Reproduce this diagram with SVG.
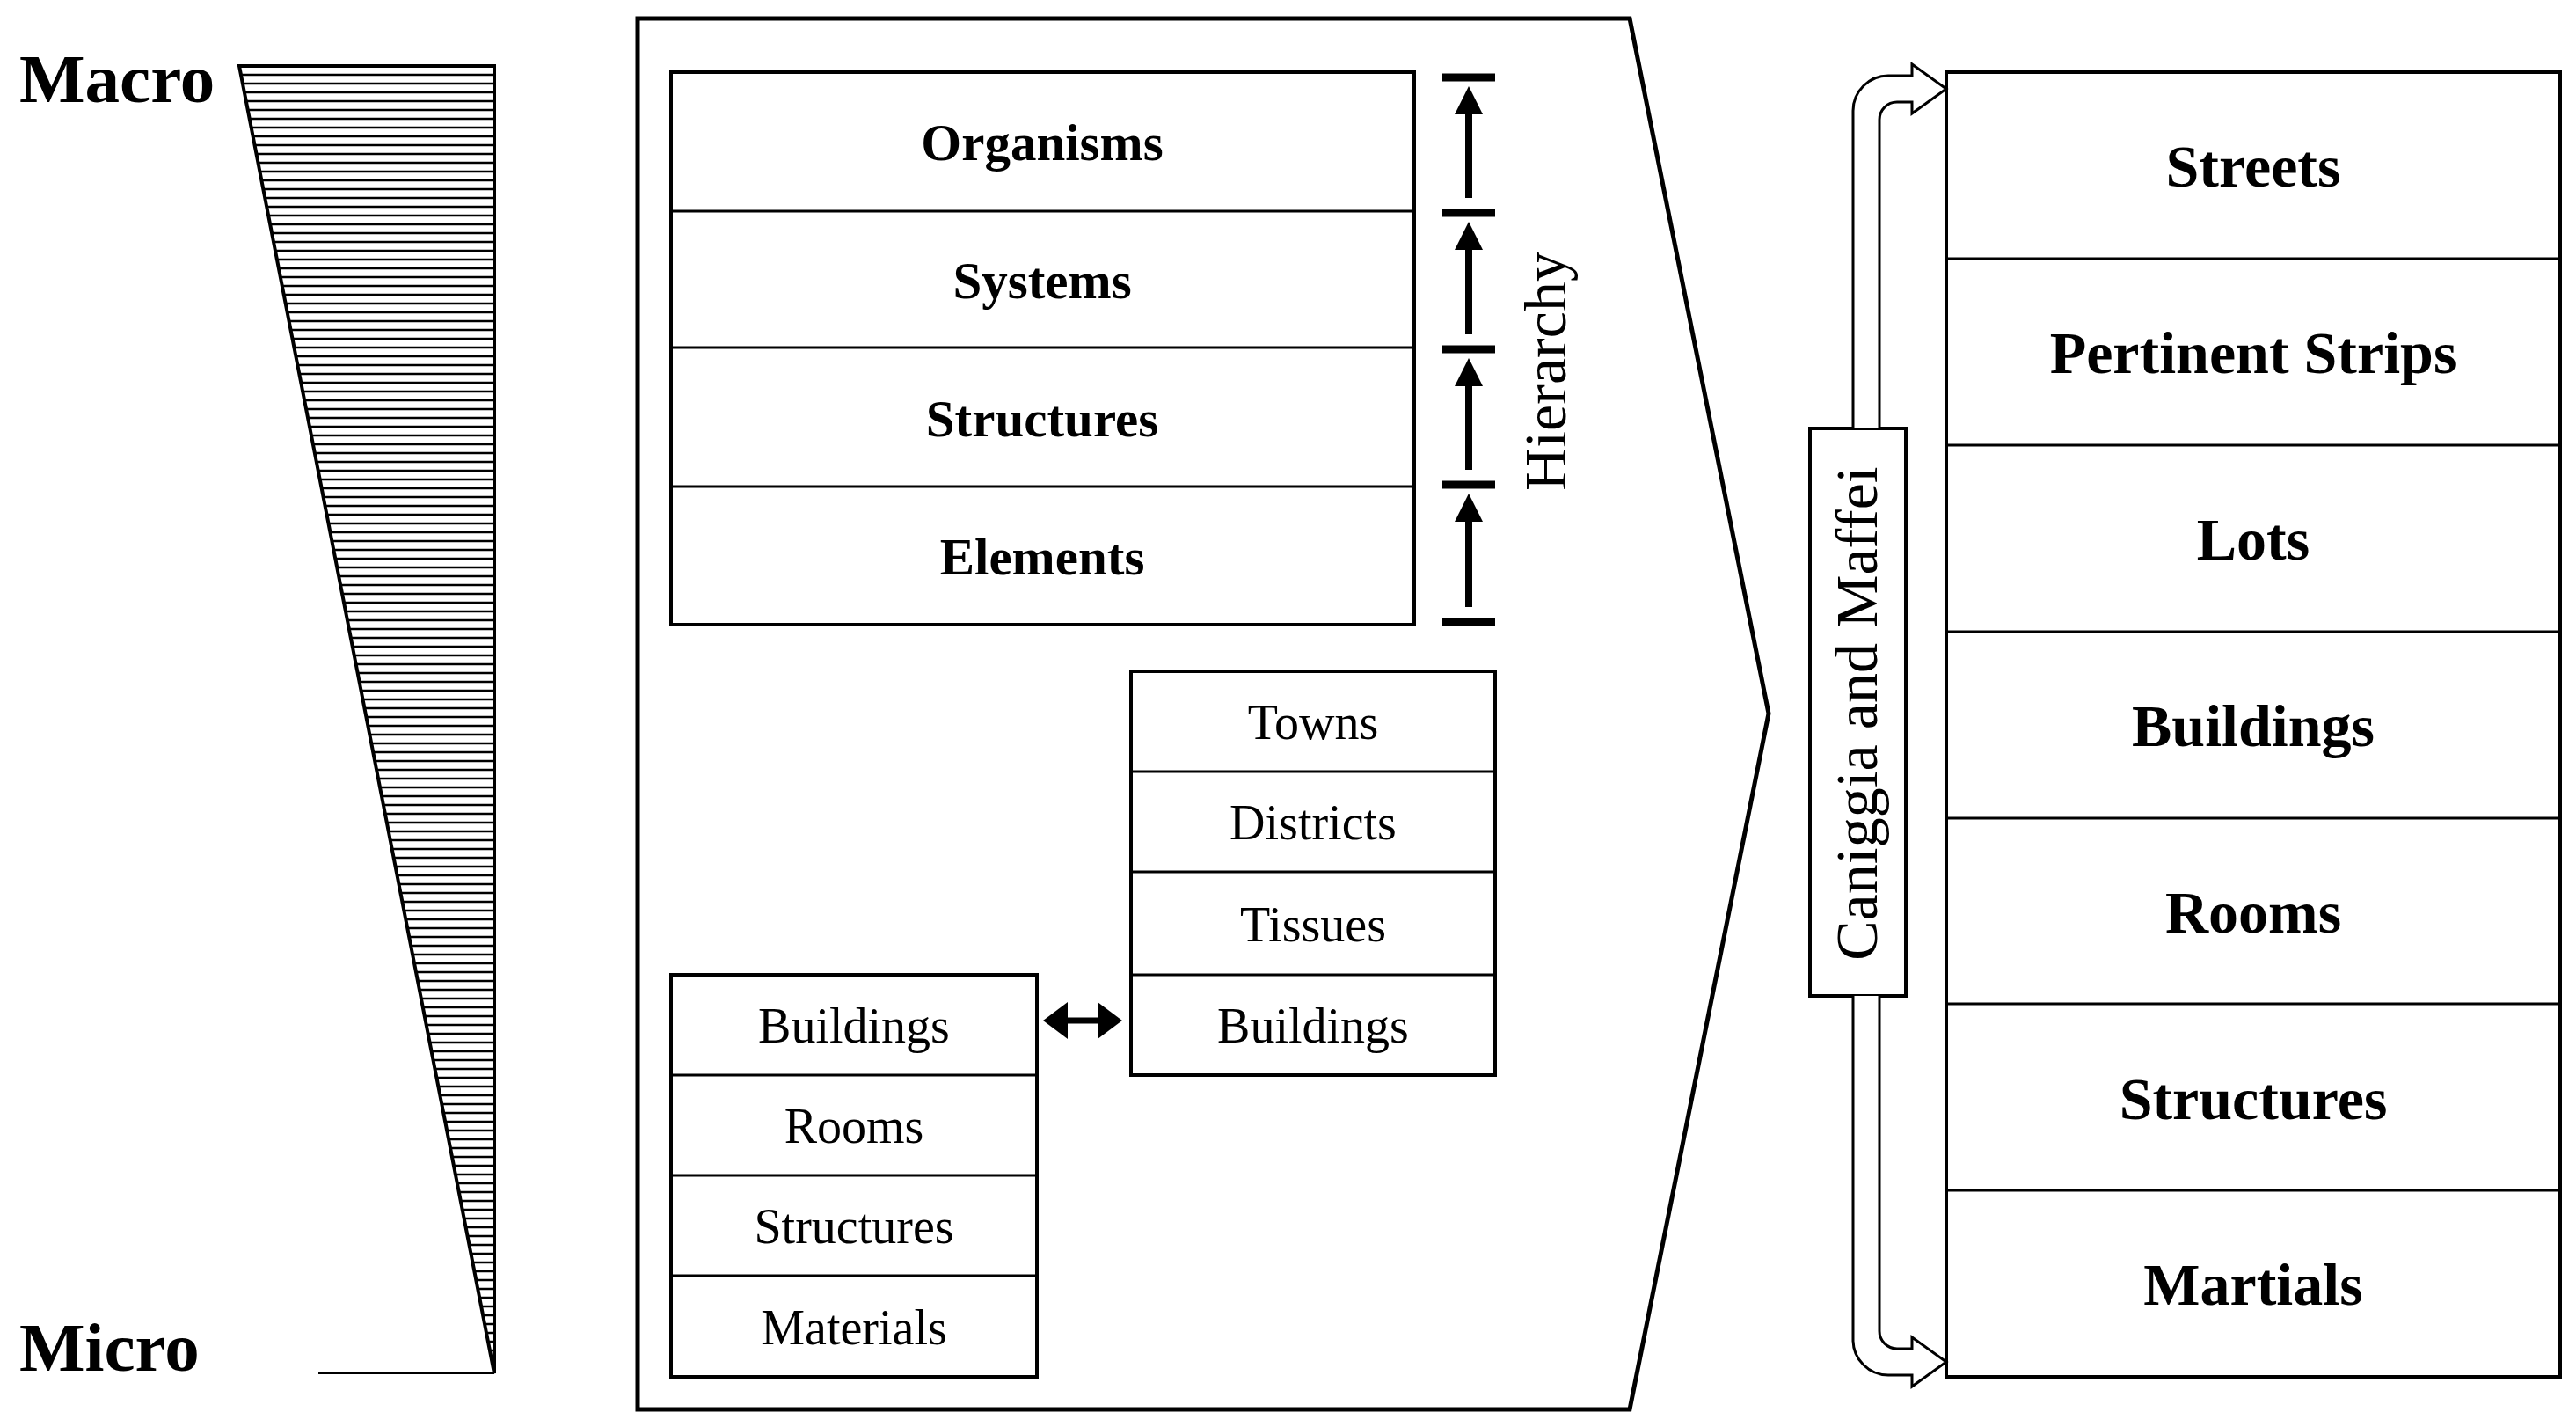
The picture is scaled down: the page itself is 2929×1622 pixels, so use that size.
<svg xmlns="http://www.w3.org/2000/svg" width="2929" height="1622" viewBox="0 0 2929 1622">
<style>
.box{fill:#fff;stroke:#000;stroke-width:4}
.b{font-family:"Liberation Serif",serif;font-weight:bold;text-anchor:middle;fill:#000}
.r{font-family:"Liberation Serif",serif;text-anchor:middle;fill:#000}
.bar{stroke:#000;stroke-width:9}
.ha{stroke:#000;stroke-width:8;marker-end:url(#ah)}
</style>
<defs>
<pattern id="hatch" width="20" height="10" patternUnits="userSpaceOnUse">
<rect width="20" height="10" fill="#fff"/>
<line x1="0" y1="5" x2="20" y2="5" stroke="#000" stroke-width="2.5"/>
</pattern>
<marker id="ah" markerWidth="4" markerHeight="4" refX="1" refY="2" orient="auto" markerUnits="strokeWidth">
<path d="M0,0 L4,2 L0,4 z" fill="#000"/>
</marker>
<marker id="dh" markerWidth="4" markerHeight="6" refX="2" refY="3" orient="auto-start-reverse" markerUnits="strokeWidth">
<path d="M0,0 L4,3 L0,6 z" fill="#000"/>
</marker>
</defs>
<rect width="2929" height="1622" fill="#fff"/>
<g id="scale">
<polygon points="272,75 562,75 562,1561" fill="url(#hatch)" stroke="#000" stroke-width="4"/>
<line x1="362" y1="1561" x2="562" y2="1561" stroke="#000" stroke-width="2"/>
<text x="22" y="116" font-family="Liberation Serif,serif" font-weight="bold" font-size="79">Macro</text>
<text x="22" y="1558" font-family="Liberation Serif,serif" font-weight="bold" font-size="79">Micro</text>
</g>
<g id="frame">
<polygon points="725,21 1853,21 2011,811 1853,1602 725,1602" fill="none" stroke="#000" stroke-width="5"/>
</g>
<g id="hier-table">
<rect class="box" x="763" y="82" width="845" height="628"/>
<line x1="763" y1="240" x2="1608" y2="240" stroke="#000" stroke-width="3"/>
<line x1="763" y1="395" x2="1608" y2="395" stroke="#000" stroke-width="3"/>
<line x1="763" y1="553" x2="1608" y2="553" stroke="#000" stroke-width="3"/>
<text class="b" x="1185" y="182" font-size="59">Organisms</text>
<text class="b" x="1185" y="339" font-size="59">Systems</text>
<text class="b" x="1185" y="496" font-size="59">Structures</text>
<text class="b" x="1185" y="653" font-size="59">Elements</text>
</g>
<g id="hierarchy">
<line class="bar" x1="1640" y1="88" x2="1700" y2="88"/>
<line class="bar" x1="1640" y1="242" x2="1700" y2="242"/>
<line class="bar" x1="1640" y1="397" x2="1700" y2="397"/>
<line class="bar" x1="1640" y1="551" x2="1700" y2="551"/>
<line class="bar" x1="1640" y1="707" x2="1700" y2="707"/>
<text class="r" font-size="68" transform="translate(1780,422) rotate(-90)">Hierarchy</text>
</g>
<g id="mid-table">
<rect class="box" x="1286" y="763" width="414" height="459"/>
<line x1="1286" y1="877" x2="1700" y2="877" stroke="#000" stroke-width="3"/>
<line x1="1286" y1="991" x2="1700" y2="991" stroke="#000" stroke-width="3"/>
<line x1="1286" y1="1108" x2="1700" y2="1108" stroke="#000" stroke-width="3"/>
<text class="r" x="1493" y="840" font-size="56">Towns</text>
<text class="r" x="1493" y="954" font-size="56">Districts</text>
<text class="r" x="1493" y="1070" font-size="56">Tissues</text>
<text class="r" x="1493" y="1185" font-size="56">Buildings</text>
</g>
<g id="left-table">
<rect class="box" x="763" y="1108" width="416" height="457"/>
<line x1="763" y1="1222" x2="1179" y2="1222" stroke="#000" stroke-width="3"/>
<line x1="763" y1="1336" x2="1179" y2="1336" stroke="#000" stroke-width="3"/>
<line x1="763" y1="1450" x2="1179" y2="1450" stroke="#000" stroke-width="3"/>
<text class="r" x="971" y="1185" font-size="56">Buildings</text>
<text class="r" x="971" y="1299" font-size="56">Rooms</text>
<text class="r" x="971" y="1413" font-size="56">Structures</text>
<text class="r" x="971" y="1528" font-size="56">Materials</text>
</g>
<g id="right-table">
<rect class="box" x="2213" y="82" width="698" height="1483"/>
<line x1="2213" y1="294" x2="2911" y2="294" stroke="#000" stroke-width="3"/>
<line x1="2213" y1="506" x2="2911" y2="506" stroke="#000" stroke-width="3"/>
<line x1="2213" y1="718" x2="2911" y2="718" stroke="#000" stroke-width="3"/>
<line x1="2213" y1="930" x2="2911" y2="930" stroke="#000" stroke-width="3"/>
<line x1="2213" y1="1141" x2="2911" y2="1141" stroke="#000" stroke-width="3"/>
<line x1="2213" y1="1353" x2="2911" y2="1353" stroke="#000" stroke-width="3"/>
<text class="b" x="2562" y="212" font-size="68">Streets</text>
<text class="b" x="2562" y="424" font-size="68">Pertinent Strips</text>
<text class="b" x="2562" y="636" font-size="68">Lots</text>
<text class="b" x="2562" y="848" font-size="68">Buildings</text>
<text class="b" x="2562" y="1060" font-size="68">Rooms</text>
<text class="b" x="2562" y="1272" font-size="68">Structures</text>
<text class="b" x="2562" y="1483" font-size="68">Martials</text>
</g>
<g id="caniggia">
<rect class="box" x="2058" y="487" width="109" height="645" stroke-width="3"/>
<text class="r" font-size="68" transform="translate(2134,811) rotate(-90)">Caniggia and Maffei</text>
</g>
<g id="connectors">
<line class="ha" x1="1670" y1="225" x2="1670" y2="122"/>
<line class="ha" x1="1670" y1="380" x2="1670" y2="276"/>
<line class="ha" x1="1670" y1="534" x2="1670" y2="431"/>
<line class="ha" x1="1670" y1="690" x2="1670" y2="585"/>
<line x1="1200" y1="1160" x2="1262" y2="1160" stroke="#000" stroke-width="7" marker-start="url(#dh)" marker-end="url(#dh)"/>
<path d="M2107,487 L2107,126 A40,40 0 0 1 2147,86 L2174,86 L2174,73 L2213,101 L2174,129 L2174,116 L2157,116 A20,20 0 0 0 2137,136 L2137,487" fill="#fff" stroke="#000" stroke-width="3"/>
<path d="M2107,1132 L2107,1523 A40,40 0 0 0 2147,1563 L2174,1563 L2174,1576 L2213,1548 L2174,1520 L2174,1533 L2157,1533 A20,20 0 0 1 2137,1513 L2137,1132" fill="#fff" stroke="#000" stroke-width="3"/>
</g>
</svg>
